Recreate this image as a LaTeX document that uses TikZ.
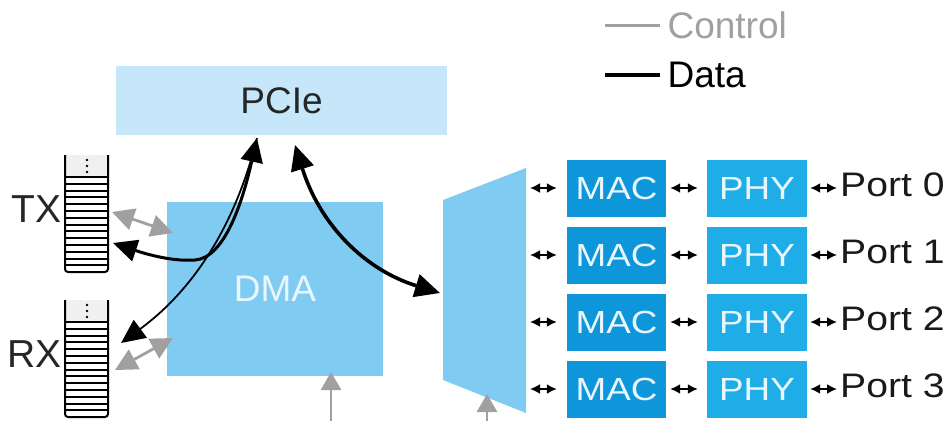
\documentclass[tikz,border=0pt]{standalone}
\usepackage{fontspec}
\setmainfont{Liberation Sans}
\newfontfamily\widefont{Liberation Sans}[FakeStretch=1.15]
\usetikzlibrary{arrows.meta,positioning}
\definecolor{pciefill}{HTML}{C6E7FA}
\definecolor{dmafill}{HTML}{7FCBF2}
\definecolor{macfill}{HTML}{0D96DA}
\definecolor{phyfill}{HTML}{1FADE8}
\definecolor{boxtext}{HTML}{EAF6FD}
\definecolor{ctrlgray}{HTML}{A0A0A0}
\begin{document}
\begin{tikzpicture}[x=1pt,y=-1pt,
  ctrl/.style={draw=ctrlgray,line width=2.8pt,{Triangle[length=22pt,width=22pt]}-{Triangle[length=22pt,width=22pt]}},
  data/.style={draw=black,line width=3pt},
  link/.style={line width=1.8pt,{Latex[length=10pt,width=10pt]}-{Latex[length=10pt,width=10pt]}},
  unitbox/.style={minimum width=99pt,minimum height=57pt,inner sep=0pt,text=boxtext,font=\widefont\fontsize{32}{34}\selectfont}]
\useasboundingbox (0,0) rectangle (950,421);

\draw[ctrlgray,line width=3pt] (605,25) -- (660,25);
\node[anchor=west,text=ctrlgray,font=\fontsize{37}{40}\selectfont] (ctrllabel) at (664,25) {Control};
\draw[line width=3.4pt] (605,75) -- (660,75);
\node[anchor=west,font=\fontsize{37}{40}\selectfont] (datalabel) at (664,75) {Data};

\node[fill=pciefill,minimum width=331pt,minimum height=69pt,text=black!85,font=\fontsize{37}{40}\selectfont] (pcie) at (281.5,100.5) {PCIe};
\node[fill=dmafill,minimum width=216pt,minimum height=174pt,text=boxtext,font=\fontsize{37}{40}\selectfont] (dma) at (275,289) {DMA};
\fill[dmafill] (443,200) -- (526,168) -- (526,413) -- (443,380) -- cycle;

\foreach \q/\t in {txq/155,rxq/300}{
  \fill[gray!12] (65,\t) rectangle (108,\t+22);
  \foreach \k in {0,...,13}
    \draw[line width=2pt] (65,\t+22+\k*6.8) -- (108,\t+22+\k*6.8);
  \draw[line width=2pt,rounded corners=3pt] (65,\t) -- (65,\t+117) -- (108,\t+117) -- (108,\t);
  \foreach \d in {0,1,2}
    \fill (87,\t+5+\d*6) circle (1.4pt);
  \node[minimum width=43pt,minimum height=117pt,inner sep=0pt] (\q) at (86.5,\t+58.5) {};
}
\node[anchor=east,inner sep=0pt,text=black!85,font=\fontsize{39}{42}\selectfont] (txlabel) at (62,209) {TX};
\node[anchor=east,inner sep=0pt,text=black!85,font=\fontsize{39}{42}\selectfont] (rxlabel) at (62,354) {RX};

\coordinate (txc) at (112,212);
\coordinate (dmatx) at (173,233);
\coordinate (rxc) at (115,370);
\coordinate (dmarx) at (173,338);
\coordinate (txd) at (113,243);
\coordinate (rxd) at (121,343);
\coordinate (pciea) at (257,138);
\coordinate (pcieb) at (295,145);
\coordinate (muxin) at (440,293);
\coordinate (dmactl) at (331,421);
\coordinate (muxctl) at (487,421);

\draw[ctrl] (txc) -- (dmatx);
\draw[ctrl] (rxc) -- (dmarx);
\draw[draw=ctrlgray,line width=2.8pt,-{Triangle[length=18pt,width=20pt]}] (dmactl) -- (331,372);
\draw[draw=ctrlgray,line width=2.8pt,-{Triangle[length=18pt,width=20pt]}] (muxctl) -- (487,394);

\draw[black,line width=1.8pt,-{Triangle[length=24pt,width=22pt]}] (pciea) .. controls (238,215) and (200,285) .. (rxd);
\draw[data,{Triangle[length=24pt,width=22pt]}-{Triangle[length=24pt,width=22pt]}] (txd) .. controls (140,252) and (170,262) .. (195,260) .. controls (225,258) and (243,200) .. (pciea);
\draw[data,line width=3.6pt,{Triangle[length=25pt,width=23pt]}-{Triangle[length=25pt,width=23pt]}] (pcieb) .. controls (320,225) and (365,270) .. (muxin);

\foreach \i/\y in {0/188,1/255,2/322,3/389}{
  \node[unitbox,fill=macfill] (mac\i) at (616.5,\y) {MAC};
  \node[unitbox,fill=phyfill,minimum width=100pt] (phy\i) at (757,\y) {PHY};
  \node[anchor=west,inner sep=0pt,text=black!90,font=\widefont\fontsize{34}{36}\selectfont] (port\i) at (840,\y-3) {Port \i};
  \coordinate (mux\i) at (530,\y);
  \draw[link,shorten >=10pt] (mux\i) -- (mac\i);
  \draw[link,shorten <=4pt,shorten >=9pt] (mac\i) -- (phy\i);
  \draw[link,shorten <=3pt,shorten >=3pt] (phy\i.east) -- (port\i.west |- phy\i.east);
}
\end{tikzpicture}
\end{document}
